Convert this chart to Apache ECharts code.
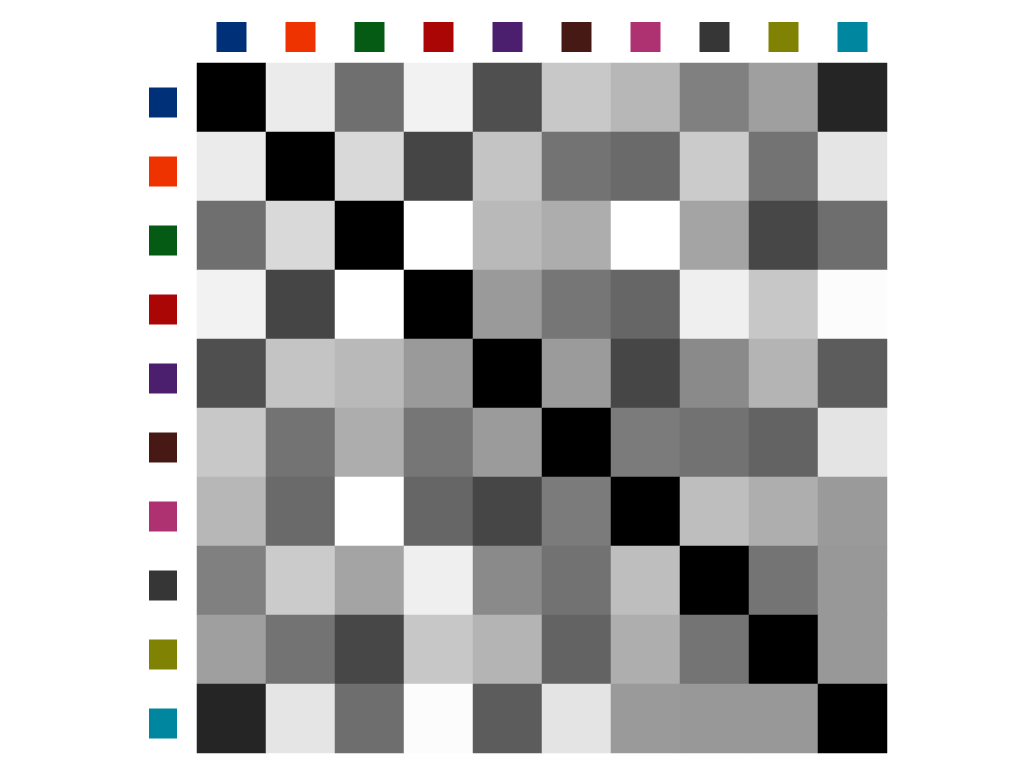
<!DOCTYPE html>
<html>
<head>
<meta charset="utf-8">
<script src="https://cdn.jsdelivr.net/npm/echarts@6/dist/echarts.min.js"></script>
<style>html,body{margin:0;padding:0;background:#fff}#c{width:1024px;height:768px}</style>
</head>
<body>
<div id="c"></div>
<script>
// category colours (used as the axis labels)
const categoryColors = ['#003078','#ee3300','#055a14','#aa0606','#4b1f6e','#461914','#ae3172','#363636','#808204','#00879f'];
const categories = ['c0','c1','c2','c3','c4','c5','c6','c7','c8','c9'];
// grey level of each cell (0 = black, 255 = white), row by row
const row0 = [0,235,111,242,79,200,183,128,159,37];
const row1 = [235,0,217,69,196,115,106,203,115,229];
const row2 = [111,217,0,255,185,173,255,164,71,110];
const row3 = [242,69,255,0,154,118,102,239,199,252];
const row4 = [79,196,185,154,0,155,70,138,180,92];
const row5 = [200,115,173,118,155,0,123,114,99,228];
const row6 = [183,106,255,102,70,123,0,190,174,154];
const row7 = [128,203,164,239,138,114,190,0,116,152];
const row8 = [159,115,71,199,180,99,174,116,0,152];
const row9 = [37,229,110,252,92,228,154,152,152,0];
const rows = [row0,row1,row2,row3,row4,row5,row6,row7,row8,row9];

const data = [];
rows.forEach((r, y) => r.forEach((v, x) => data.push([x, y, v])));

const rich = {};
categoryColors.forEach((c, i) => {
  rich['x' + i] = {width: 30, height: 30, backgroundColor: c};
  rich['y' + i] = {width: 28, height: 30, backgroundColor: c};
});

const chart = echarts.init(document.getElementById('c'));
chart.setOption({
  animation: false,
  grid: {left: 197, top: 63, width: 690, height: 690},
  xAxis: {
    type: 'category', data: categories, position: 'top',
    axisLine: {show: false}, axisTick: {show: false}, splitLine: {show: false},
    axisLabel: {margin: 11, interval: 0, rich: rich,
      formatter: (v, i) => '{x' + i + '|}'}
  },
  yAxis: {
    type: 'category', data: categories, inverse: true,
    axisLine: {show: false}, axisTick: {show: false}, splitLine: {show: false},
    axisLabel: {margin: 20, interval: 0, rich: rich, padding: [10, 0, 0, 0],
      formatter: (v, i) => '{y' + i + '|}'}
  },
  visualMap: {show: false, type: 'continuous', min: 0, max: 255, dimension: 2,
    inRange: {color: ['#000000', '#ffffff']}},
  series: [{
    type: 'heatmap', data: data,
    itemStyle: {borderWidth: 0},
    emphasis: {disabled: true}
  }]
});
</script>
</body>
</html>
